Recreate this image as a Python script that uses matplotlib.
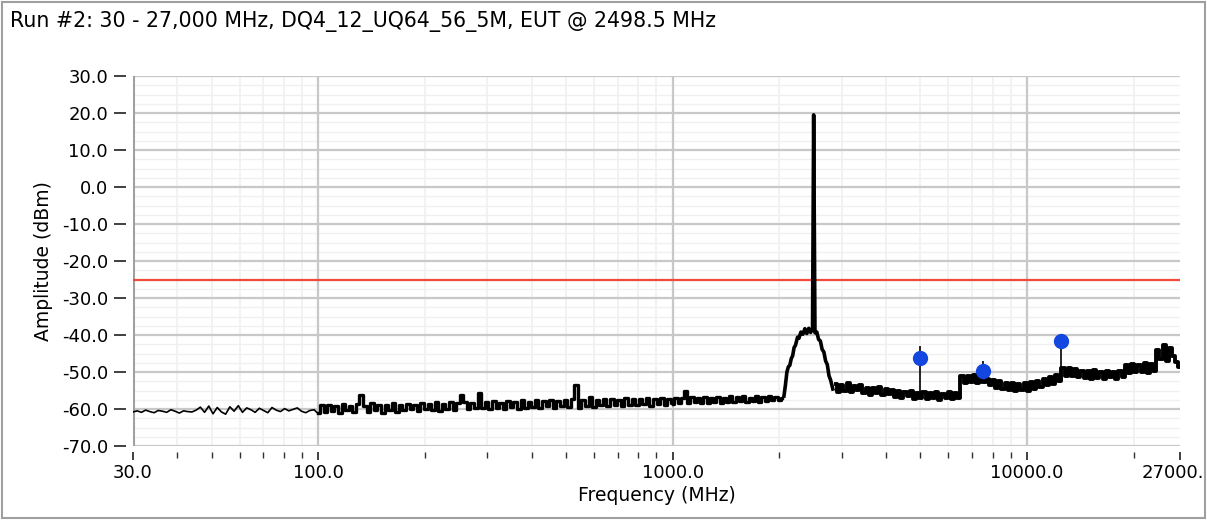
import numpy as np
import matplotlib
matplotlib.use('Agg')
import matplotlib.pyplot as plt
import matplotlib.transforms as mtransforms
from matplotlib.patches import Rectangle

#### chart text
title = 'Run #2: 30 - 27,000 MHz, DQ4_12_UQ64_56_5M, EUT @ 2498.5 MHz'
xlabel = 'Frequency (MHz)'
ylabel = 'Amplitude (dBm)'

#### axes ticks
xticks = [30, 100, 1000, 10000, 27000]
xticklabels = ['30.0', '100.0', '1000.0', '10000.0', '27000.']
yticks = [-70, -60, -50, -40, -30, -20, -10, 0, 10, 20, 30]
yticklabels = ['-70.0', '-60.0', '-50.0', '-40.0', '-30.0', '-20.0',
               '-10.0', '0.0', '10.0', '20.0', '30.0']
limit_dbm = -25.0

#### sweep segments (start MHz, stop MHz, amplitudes)
seg_a = (30, 100, [
    -60.8, -60.5, -60.9, -60.3, -60.7, -61.0, -60.4, -60.6, -60.9, -60.2,
    -60.6, -61.1, -60.5, -60.7, -60.8, -60.3, -59.5, -60.9, -59.2, -61.3,
    -59.6, -60.8, -61.4, -59.4, -60.6, -59.1, -60.9, -59.7, -60.2, -60.9,
    -59.8, -60.4, -61.0, -59.6, -60.3, -60.7, -59.9, -60.5, -60.1, -59.7,
    -60.6, -61.0, -60.4, -60.2, -61.3])

seg_b = (100, 1000, [
    -61.2, -59.0, -60.8, -58.9, -60.6, -59.3, -61.0, -58.7, -60.4, -59.1,
    -60.9, -58.6, -56.2, -59.2, -60.8, -58.5, -60.3, -59.0, -61.0, -58.8,
    -60.2, -58.4, -60.7, -58.9, -60.4, -58.6, -60.1, -59.0, -60.6, -58.3,
    -60.0, -58.7, -60.3, -58.2, -60.5, -58.6, -59.9, -58.1, -60.2, -58.4,
    -56.2, -58.0, -60.1, -58.5, -59.8, -55.7, -59.6, -58.2, -60.0, -57.9,
    -59.7, -58.3, -60.1, -57.8, -59.5, -58.0, -59.9, -57.7, -59.6, -58.1,
    -59.4, -57.6, -59.8, -57.9, -59.3, -57.5, -59.7, -57.8, -59.2, -57.6,
    -59.5, -57.4, -53.5, -59.6, -57.7, -59.1, -56.8, -59.4, -57.5, -59.0,
    -57.3, -59.2, -57.2, -58.9, -57.6, -59.3, -57.1, -58.8, -57.4, -59.0,
    -57.2, -58.7, -57.0, -59.1, -57.3, -58.6, -56.9, -58.9, -57.2, -58.5])

seg_c = (1000, 2040, [
    -58.6, -56.9, -58.4, -57.0, -55.0, -58.5, -56.8, -58.2, -57.1, -58.4,
    -56.8, -58.3, -57.0, -58.1, -56.7, -58.4, -56.9, -58.0, -56.6, -58.2,
    -56.8, -57.9, -56.5, -58.1, -56.9, -57.8, -56.6, -58.0, -56.7, -57.9,
    -56.5, -57.7, -56.8, -57.6, -56.9])

#### carrier region (frequencies read individually)
peak_freq = [2060, 2080, 2100, 2120, 2140, 2160, 2180, 2200, 2220, 2250,
             2270, 2300, 2330, 2360, 2390, 2420, 2450, 2480, 2498.5, 2520,
             2550, 2580, 2610, 2640, 2670, 2700, 2730, 2760, 2790, 2830]
peak_amp = [-56.5, -53.5, -50.0, -48.6, -48.2, -46.4, -45.6, -43.4, -42.8, -40.6,
            -40.9, -39.2, -39.8, -38.3, -39.6, -38.2, -39.3, -38.4, 19.5, -39.4,
            -39.2, -41.2, -41.6, -43.9, -44.6, -47.0, -48.0, -51.0, -52.2, -54.6]

seg_e = (2880, 27000, [
    -53.2, -55.4, -53.6, -55.0, -53.1, -55.3, -53.8, -54.9, -53.4, -55.6,
    -54.2, -56.1, -54.4, -55.8, -54.0, -56.3, -54.6, -55.9, -54.9, -56.8,
    -55.2, -57.0, -55.4, -56.6, -55.0, -57.2, -55.6, -56.9, -55.3, -57.4,
    -55.7, -57.1, -55.4, -57.5, -55.9, -57.0, -55.5, -57.3, -55.8, -56.9,
    -51.0, -53.1, -51.2, -52.8, -50.9, -53.0, -51.5, -52.6, -51.8, -53.6,
    -52.2, -54.3, -52.5, -54.6, -52.9, -54.8, -53.1, -55.2, -53.3, -54.9,
    -53.0, -55.1, -52.6, -54.5, -52.3, -54.0, -51.8, -53.6, -51.4, -53.2,
    -50.9, -52.4, -49.0, -51.2, -48.8, -51.0, -49.3, -51.4, -49.6, -51.6,
    -49.8, -51.8, -49.5, -51.5, -50.0, -52.0, -49.7, -51.3, -49.9, -51.9,
    -49.6, -51.4, -48.2, -50.3, -47.8, -50.1, -48.0, -49.9, -47.6, -50.2,
    -47.9, -49.6, -44.0, -46.5, -42.8, -46.9, -43.5, -45.8, -47.2, -48.6])

#### harmonic markers
mark_freq = [4997.0, 7495.5, 12492.5]
mark_amp = [-46.3, -49.8, -41.5]
stem_base = [-56.3, -51.5, -51.2]
stem_top = [-43.0, -47.0, -41.5]

minor_x = [40, 50, 60, 70, 80, 90, 200, 300, 400, 500, 600, 700, 800, 900,
           2000, 3000, 4000, 5000, 6000, 7000, 8000, 9000, 20000]


def sweep(seg):
    start, stop, amps = seg
    return np.geomspace(start, stop, len(amps)), np.array(amps)


W, H = 1207, 520
fig = plt.figure(figsize=(W / 100, H / 100), dpi=100)
ax = fig.add_axes([133 / W, 1 - 446 / H, (1180 - 133) / W, (446 - 76) / H])
ax.set_xscale('log')
ax.set_xlim(30, 27000)
ax.set_ylim(-70, 30)
ax.set_axisbelow(True)

#### grid
grid_major = '#c8c8c8'
grid_minor = '#f0f0f0'
ax.set_yticks(np.arange(-70, 30.1, 2.5), minor=True)
ax.grid(axis='y', which='minor', color=grid_minor, lw=1.0)
for sub in minor_x:
    ax.axvline(sub, color=grid_minor, lw=1.2, zorder=0.6)
for yv in yticks:
    ax.axhline(yv, color=grid_major, lw=1.6, zorder=1)
for xv in [100, 1000, 10000]:
    ax.axvline(xv, color=grid_major, lw=1.6, zorder=1)
ax.axvline(30, color='#a0a0a0', lw=2.2, zorder=1)

#### limit line
ax.axhline(limit_dbm, color='#f24a3a', lw=1.6, zorder=2)

#### trace
fa, aa = sweep(seg_a)
ax.plot(fa, aa, color='black', lw=1.2, zorder=3)
for seg in (seg_b, seg_c):
    f, a = sweep(seg)
    ax.plot(f, a, color='black', lw=2.4, drawstyle='steps-mid', zorder=3)
ax.plot(peak_freq, peak_amp, color='black', lw=2.6, zorder=3)
fe, ae = sweep(seg_e)
ax.plot(fe, ae, color='black', lw=2.8, drawstyle='steps-mid', zorder=3)

#### markers
ax.vlines(mark_freq, stem_base, stem_top, color='black', lw=1.2, zorder=4)
ax.plot(mark_freq, mark_amp, 'o', color='#1447e0', ms=10, mec='#1447e0', zorder=5)

#### axes styling
for s in ax.spines.values():
    s.set_visible(False)
ax.spines['left'].set_position(('outward', 5))
ax.spines['bottom'].set_position(('outward', 4))
ax.set_xticks(xticks)
ax.set_xticklabels(xticklabels, fontsize=13)
ax.set_xticks(minor_x, minor=True)
ax.xaxis.set_minor_formatter(plt.NullFormatter())
ax.set_yticks(yticks)
ax.set_yticklabels(yticklabels, fontsize=13)
ax.tick_params(axis='x', which='major', direction='out', length=6, width=1.2,
               color='#202020', pad=3)
ax.tick_params(axis='x', which='minor', direction='out', length=4, width=1.0,
               color='#303030')
ax.tick_params(axis='y', which='major', direction='out', length=9, width=1.2,
               color='#202020', pad=4)
ax.tick_params(axis='y', which='minor', length=0)
ax.set_xlabel(xlabel, fontsize=13.5, labelpad=3)
ax.set_ylabel(ylabel, fontsize=13.5, labelpad=6)

#### keep the last tick label inside the frame
last = ax.get_xticklabels()[-1]
last.set_ha('right')
last.set_transform(last.get_transform() +
                   mtransforms.ScaledTranslation(24 / 100, 0, fig.dpi_scale_trans))

fig.text(10 / W, 1 - 21 / H, title, fontsize=14.8, va='center', ha='left')
fig.add_artist(Rectangle((2 / W, 2 / H), (W - 4) / W, (H - 4) / H,
                         transform=fig.transFigure, fill=False,
                         edgecolor='#a0a0a0', lw=1.5))

fig.savefig('out.png', dpi=100)
